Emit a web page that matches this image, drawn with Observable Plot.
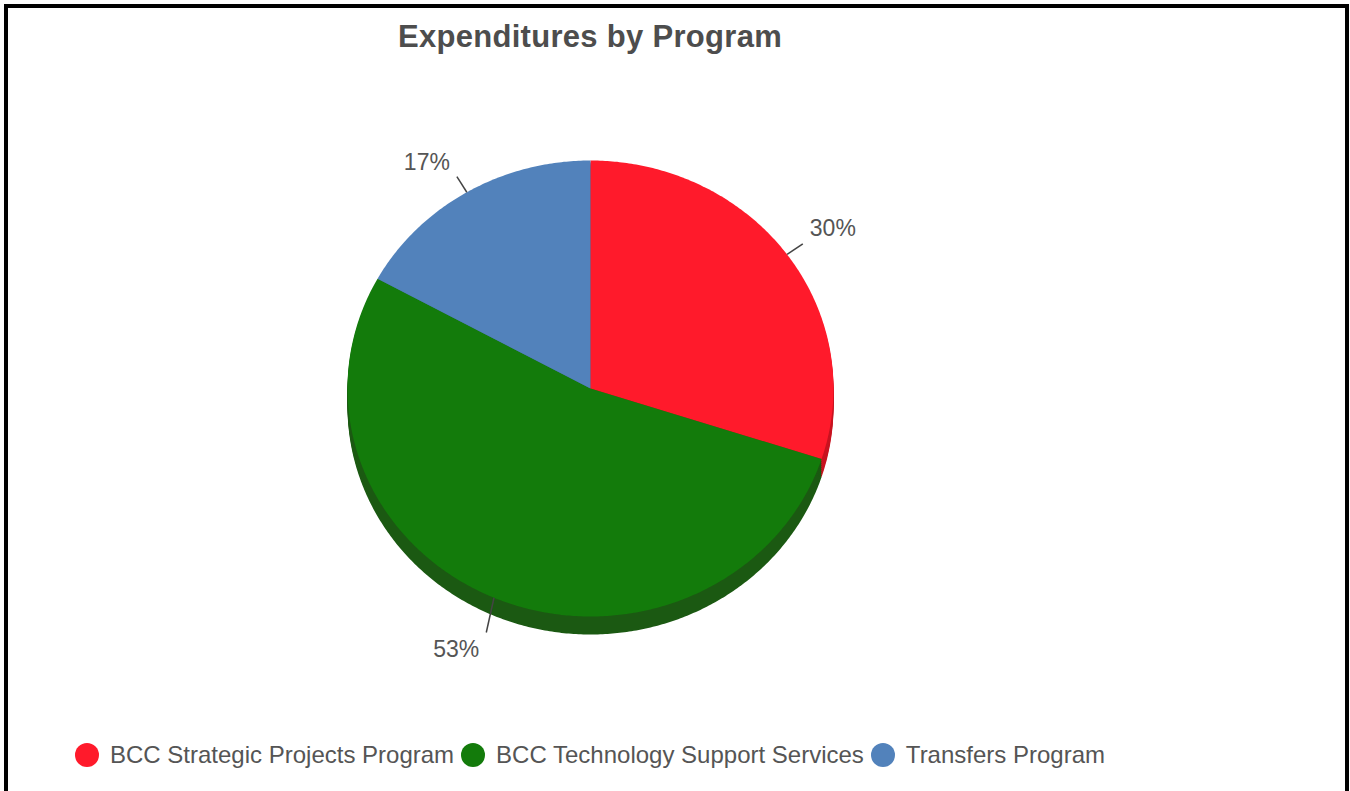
<!DOCTYPE html>
<html>
<head>
<meta charset="utf-8">
<script src="https://cdn.jsdelivr.net/npm/d3@7"></script>
<script src="https://cdn.jsdelivr.net/npm/@observablehq/plot@0.6"></script>
<style>
  html, body { margin: 0; padding: 0; background: #fff; width: 1350px; height: 791px; overflow: hidden; font-family: "Liberation Sans", Arial, sans-serif; }
  #frame { position: absolute; left: 4px; top: 4px; width: 1345px; height: 820px; border: 4px solid #000; box-sizing: border-box; }
  #title { position: absolute; left: 0; top: 19px; width: 1180px; text-align: center; font-size: 31px; letter-spacing: 0.3px; line-height: 36px; font-weight: bold; color: #4d4d4d; }
  #chart { position: absolute; left: 0; top: 0; }
  #legend { position: absolute; left: 75px; top: 743px; height: 24px; display: flex; align-items: center; font-size: 24px; color: #555; white-space: nowrap; }
  .item { display: flex; align-items: center; margin-right: 7px; }
  .sw { width: 24px; height: 24px; border-radius: 50%; margin-right: 11px; }
</style>
</head>
<body>
<div id="frame"></div>
<div id="title">Expenditures by Program</div>
<div id="chart"></div>
<div id="legend"></div>
<script>
// ---- data ----
const names = ["BCC Strategic Projects Program", "BCC Technology Support Services", "Transfers Program"];
const shares = [30, 53, 17];
const labels = ["30%", "53%", "17%"];
const colors = ["#ff1a2b", "#137b0b", "#5282bb"];
const shadowColors = ["#c8121f", "#1b5912", "#3d6591"];

// ---- layout constants ----
const depthLayers = [2, 4, 6, 8, 10, 12, 14, 16, 18];
const depthUnits = 0.079;

// build slice polygons from shares
const total = d3.sum(shares);
let cum = 0;
const slices = [];
const labelData = [];
const midCos = {};
names.forEach((name, i) => {
  const a0 = 2 * Math.PI * cum / total;
  cum += shares[i];
  const a1 = 2 * Math.PI * cum / total;
  const n = Math.max(8, Math.ceil((a1 - a0) / 0.01));
  slices.push({name, x: 0, y: 0, fill: colors[i], shadow: shadowColors[i]});
  for (let k = 0; k <= n; k++) {
    const a = a0 + (a1 - a0) * k / n;
    slices.push({name, x: Math.sin(a), y: Math.cos(a), fill: colors[i], shadow: shadowColors[i]});
  }
  slices.push({name, x: 0, y: 0, fill: colors[i], shadow: shadowColors[i]});
  const m = (a0 + a1) / 2;
  const sx = Math.sin(m), cy = Math.cos(m);
  midCos[name] = cy;
  const r2 = 1.08;
  labelData.push({
    label: labels[i],
    x1: sx, y1: cy,
    x2: r2 * sx, y2: r2 * cy - (cy < 0 ? depthUnits : 0),
    right: sx >= 0, upper: cy >= 0
  });
});

// side walls: back slices first, front slices last
const order = names.slice().sort((a, b) => midCos[b] - midCos[a]);
const shadowMarks = [];
order.forEach(name => {
  const part = slices.filter(d => d.name === name);
  depthLayers.forEach(d => {
    shadowMarks.push(Plot.line(part, {x: "x", y: "y", fill: "shadow", stroke: null, dy: d}));
  });
});

const textStyle = {x: "x2", y: "y2", text: "label", fontSize: 23, fill: "#555", fontFamily: "Liberation Sans, Arial, sans-serif"};

const plot = Plot.plot({
  width: 1350,
  height: 700,
  marginLeft: 347,
  marginRight: 517,
  marginTop: 160,
  marginBottom: 84,
  x: {domain: [-1, 1], axis: null},
  y: {domain: [-1, 1], axis: null},
  color: {type: "identity"},
  style: {background: "transparent", overflow: "visible"},
  marks: [
    ...shadowMarks,
    Plot.line(slices, {x: "x", y: "y", z: "name", fill: "fill", stroke: null}),
    Plot.link(labelData, {x1: "x1", y1: "y1", x2: "x2", y2: "y2", stroke: "#444", strokeWidth: 1.5}),
    Plot.text(labelData.filter(d => d.right && d.upper), {...textStyle, textAnchor: "start", dx: 7, dy: -15}),
    Plot.text(labelData.filter(d => !d.right && d.upper), {...textStyle, textAnchor: "end", dx: -7, dy: -14}),
    Plot.text(labelData.filter(d => d.right && !d.upper), {...textStyle, textAnchor: "start", dx: 7, dy: 16}),
    Plot.text(labelData.filter(d => !d.right && !d.upper), {...textStyle, textAnchor: "end", dx: -7, dy: 17})
  ]
});
document.getElementById("chart").appendChild(plot);

// legend
const legend = document.getElementById("legend");
names.forEach((name, i) => {
  const item = document.createElement("div");
  item.className = "item";
  const sw = document.createElement("span");
  sw.className = "sw";
  sw.style.background = colors[i];
  const t = document.createElement("span");
  t.textContent = name;
  item.appendChild(sw);
  item.appendChild(t);
  legend.appendChild(item);
});
</script>
</body>
</html>
